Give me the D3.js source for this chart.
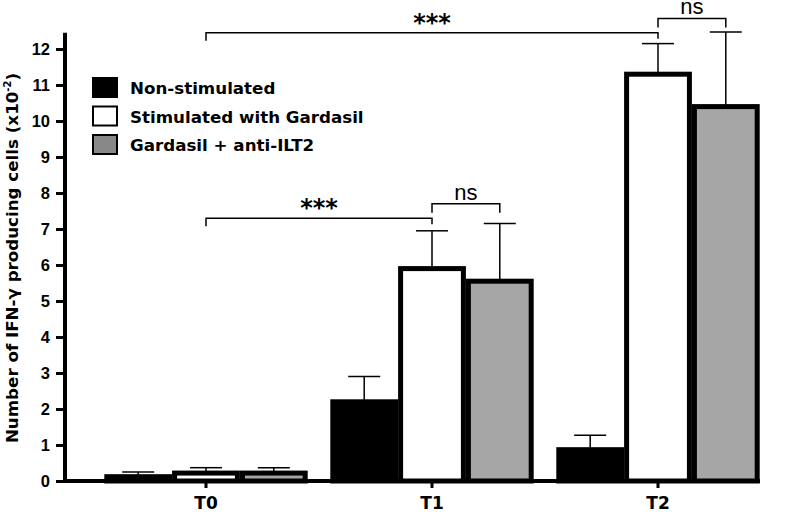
<!DOCTYPE html>
<html><head><meta charset="utf-8">
<script src="https://cdn.jsdelivr.net/npm/d3@7"></script>
<style>body{margin:0;background:#fff}svg{display:block}</style>
</head><body>
<svg id="c" width="800" height="512"></svg>
<script>
const categories = ["T0","T1","T2"];
const series = ["Non-stimulated","Stimulated with Gardasil","Gardasil + anti-ILT2"];
const means = [[0.12,0.22,0.22],[2.2,5.9,5.55],[0.87,11.3,10.4]];
const errs  = [[0.13,0.15,0.15],[0.7,1.05,1.6],[0.4,0.85,2.07]];
const yTicks = [0,1,2,3,4,5,6,7,8,9,10,11,12];
const fills = ["#000000","#ffffff","#a6a6a6"];
const legendFills = ["#000000","#ffffff","#888888"];
const brackets = [
  {a:[0,1], b:[2,1], y:12.45, label:"***"},
  {a:[2,1], b:[2,2], y:12.85, label:"ns"},
  {a:[0,1], b:[1,1], y:7.3, label:"***"},
  {a:[1,1], b:[1,2], y:7.7, label:"ns"}
];

const BOLD = "DejaVu Sans";
const HELV = "Liberation Sans, Arial";
const svg = d3.select("#c");
const y = d3.scaleLinear().domain([0,12]).range([481,49]);
const x0 = d3.scaleBand().domain(categories).range([93,771]).paddingInner(0.1).paddingOuter(0.05);
const x1 = d3.scaleBand().domain(d3.range(series.length)).range([0,x0.bandwidth()]);
const cx = (c,s)=> x0(categories[c]) + x1(s) + x1.bandwidth()/2;

const g = svg.append("g");
categories.forEach((c,ci)=>{
  series.forEach((s,si)=>{
    const v = means[ci][si], e = errs[ci][si];
    const xc = cx(ci,si);
    g.append("line").attr("x1",xc).attr("x2",xc).attr("y1",y(v)).attr("y2",y(v+e)).attr("stroke","#000").attr("stroke-width",1.5);
    g.append("line").attr("x1",xc-16).attr("x2",xc+16).attr("y1",y(v+e)).attr("y2",y(v+e)).attr("stroke","#000").attr("stroke-width",1.5);
  });
});
categories.forEach((c,ci)=>{
  series.forEach((s,si)=>{
    const v = means[ci][si];
    const x = x0(c)+x1(si);
    g.append("rect").attr("x",x+2.5).attr("y",y(v)).attr("width",x1.bandwidth()-5).attr("height",Math.max(0,y(0)-y(v)))
      .attr("fill",fills[si]).attr("stroke","#000").attr("stroke-width",5);
  });
});

// y axis
const ya = svg.append("g").attr("transform","translate(65,0)")
  .call(d3.axisLeft(y).tickValues(yTicks).tickSize(9).tickPadding(6).tickFormat(d3.format("d")));
ya.select(".domain").remove();
ya.selectAll(".tick line").attr("stroke-width",3);
ya.selectAll(".tick text").attr("font-size",16.5).attr("font-family",HELV).attr("font-weight","bold").attr("fill","#000");
svg.append("line").attr("x1",65).attr("x2",65).attr("y1",y(12.45)).attr("y2",y(0)+2).attr("stroke","#000").attr("stroke-width",4);

// x axis
svg.append("line").attr("x1",63).attr("x2",760).attr("y1",y(0)).attr("y2",y(0)).attr("stroke","#000").attr("stroke-width",4);
categories.forEach(c=>{
  const xc = x0(c)+x0.bandwidth()/2;
  svg.append("line").attr("x1",xc).attr("x2",xc).attr("y1",y(0)).attr("y2",y(0)+7).attr("stroke","#000").attr("stroke-width",3);
  svg.append("text").attr("x",xc).attr("y",509).attr("text-anchor","middle")
    .attr("font-family",BOLD).attr("font-weight","bold").attr("font-size",17).text(c);
});

// y title
const yt = svg.append("text").attr("transform","translate(18,258) rotate(-90)").attr("text-anchor","middle")
  .attr("font-family",BOLD).attr("font-weight","bold").attr("font-size",16.7);
yt.append("tspan").text("Number of IFN-γ producing cells (x10");
yt.append("tspan").attr("font-size",10).attr("dy",-7).text("-2");
yt.append("tspan").attr("dy",7).text(")");

// brackets
brackets.forEach((b,i)=>{
  const xa = cx(b.a[0],b.a[1]), xb = cx(b.b[0],b.b[1]);
  const yy = y(b.y);
  svg.append("path").attr("d",`M${xa},${yy+(i%2?9:8)}V${yy}H${xb}V${yy+(i%2?9:6)}`).attr("fill","none").attr("stroke","#000").attr("stroke-width",1.5);
  if(b.label==="***"){
    svg.append("text").attr("x",(xa+xb)/2).attr("y",yy-2).attr("text-anchor","middle")
      .attr("font-family",BOLD).attr("font-weight","bold").attr("font-size",24).text(b.label);
  } else {
    svg.append("text").attr("x",(xa+xb)/2).attr("y",yy-4).attr("text-anchor","middle")
      .attr("font-family",HELV).attr("font-weight","normal").attr("font-size",22).text(b.label);
  }
});

// legend
series.forEach((s,i)=>{
  const ly = 78 + i*28.5;
  svg.append("rect").attr("x",93).attr("y",ly).attr("width",24).attr("height",19).attr("fill",legendFills[i]).attr("stroke","#000").attr("stroke-width",2);
  svg.append("text").attr("x",130).attr("y",ly+16).attr("font-family",BOLD).attr("font-weight","bold").attr("font-size",16.7).text(s);
});
</script>
</body></html>
